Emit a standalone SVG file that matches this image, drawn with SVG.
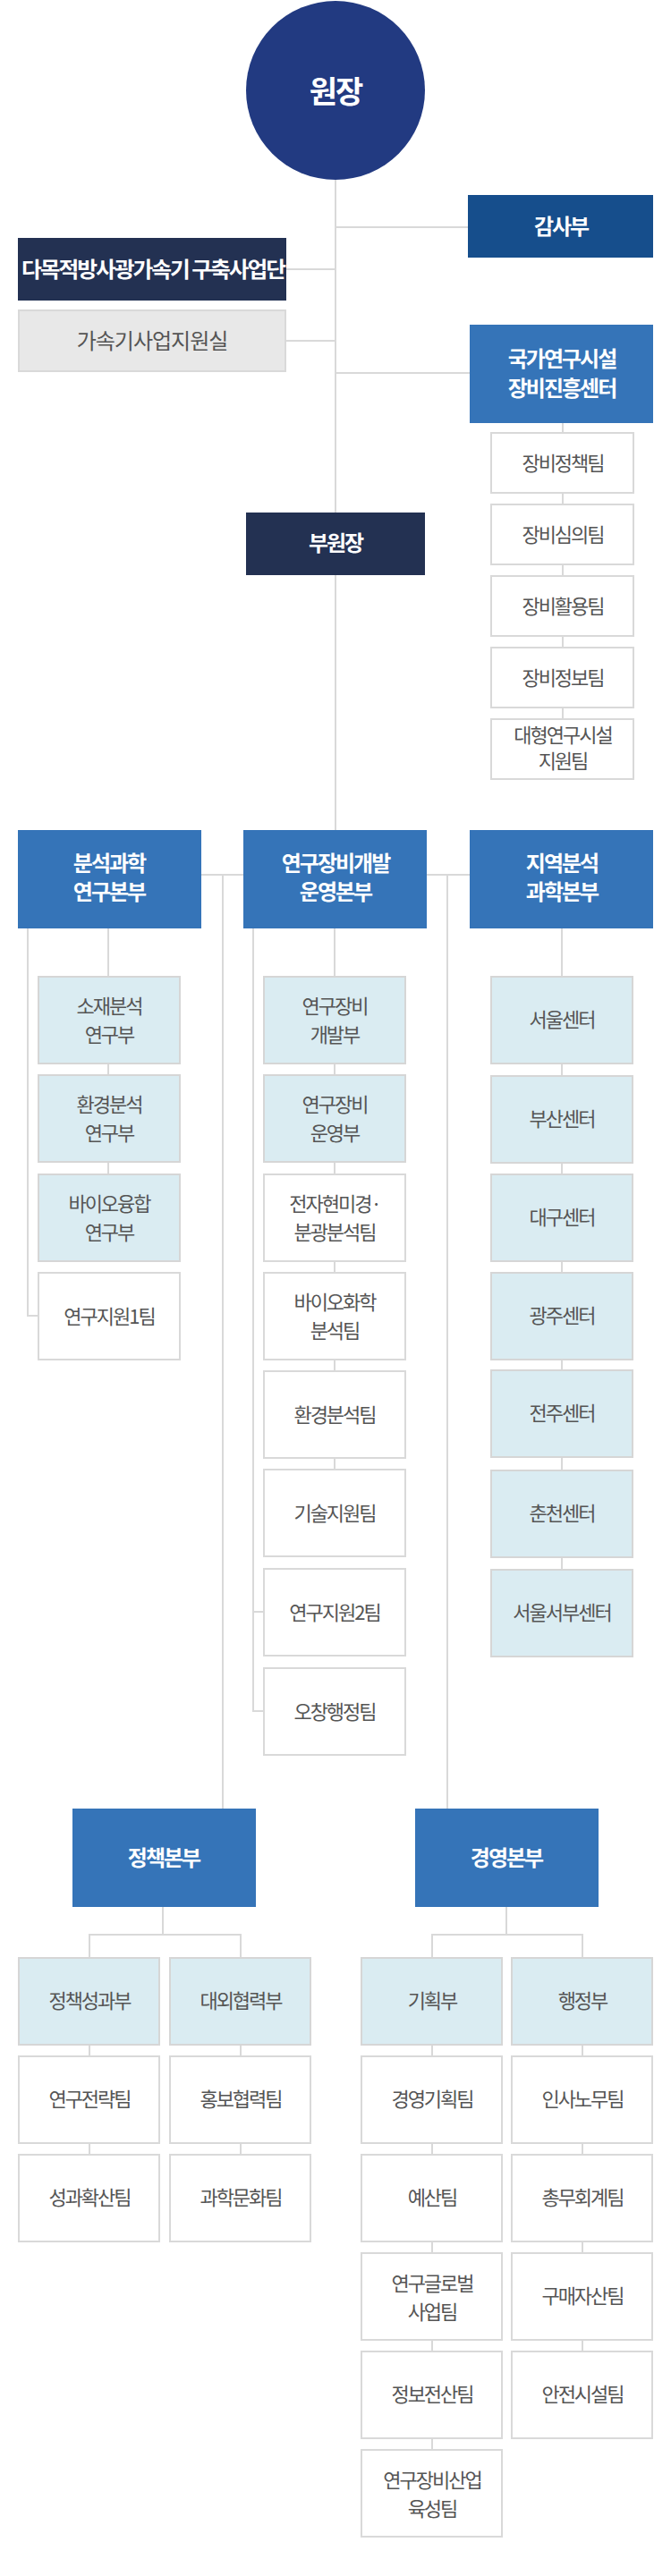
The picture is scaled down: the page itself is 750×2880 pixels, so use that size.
<svg xmlns="http://www.w3.org/2000/svg" width="750" height="2880" viewBox="0 0 750 2880">
<style>
.ln{stroke:#d9d9d9;stroke-width:2;fill:none}
.bw{fill:#ffffff;stroke:#d9d9d9;stroke-width:2}
.bl{fill:#daecf2;stroke:#d6d6d6;stroke-width:2}
.bg{fill:#e8e8e8;stroke:#d9d9d9;stroke-width:2}
.blue{fill:#3574b8}
.navy{fill:#233152}
.audit{fill:#164e8c}
text{font-family:"Noto Sans CJK KR","Noto Sans",sans-serif;text-anchor:middle}
.th{fill:#ffffff;font-size:24px;font-weight:bold;letter-spacing:-2px}
.tg{fill:#555555;font-size:22px;letter-spacing:-2px}
.tb{fill:#555555;font-size:24px;letter-spacing:-1px}
</style>
<rect width="750" height="2880" fill="#ffffff"/>
<g id="connectors">
<path class="ln" d="M375 201V928"/>
<path class="ln" d="M375 254H523"/>
<path class="ln" d="M320 301H375"/>
<path class="ln" d="M320 381H375"/>
<path class="ln" d="M375 417H525"/>
<path class="ln" d="M629 473V803"/>
<path class="ln" d="M225 978H272M477 978H525"/>
<path class="ln" d="M249 978V2022"/>
<path class="ln" d="M500 978V2022"/>
<path class="ln" d="M121 1038V1312"/>
<path class="ln" d="M31 1038V1471H42"/>
<path class="ln" d="M374 1038V1642"/>
<path class="ln" d="M283 1038V1913H294M283 1802H294"/>
<path class="ln" d="M628 1038V1754"/>
<path class="ln" d="M182 2132V2163M100 2188V2163H269V2188"/>
<path class="ln" d="M100 2286V2408M269 2286V2408"/>
<path class="ln" d="M566 2132V2163M483 2188V2163H651V2188"/>
<path class="ln" d="M483 2286V2738M651 2286V2628"/>
</g>

<g id="n-wonjang"><circle cx="375" cy="101" r="100" fill="#223a81"/><text x="375" y="115" fill="#fff" font-size="34" font-weight="bold" letter-spacing="-2">원장</text></g>
<g id="n-gamsa"><rect class="audit" x="523" y="218" width="207" height="70"/><text class="th" x="627" y="262">감사부</text></g>
<g id="n-damokjeok"><rect class="navy" x="20" y="266" width="300" height="70"/><text class="th" x="171" y="310" textLength="294" lengthAdjust="spacingAndGlyphs" letter-spacing="0">다목적방사광가속기 구축사업단</text></g>
<g id="n-gasokgi"><rect class="bg" x="21" y="347" width="298" height="68"/><text class="tb" x="170" y="390">가속기사업지원실</text></g>
<g id="n-gukga"><rect class="blue" x="525" y="363" width="205" height="110"/><text class="th" x="628" y="410">국가연구시설</text><text class="th" x="628" y="443">장비진흥센터</text></g>
<g id="n-jangbi1"><rect class="bw" x="549" y="484" width="159" height="67"/><text class="tg" x="629" y="526">장비정책팀</text></g>
<g id="n-jangbi2"><rect class="bw" x="549" y="564" width="159" height="67"/><text class="tg" x="629" y="606">장비심의팀</text></g>
<g id="n-jangbi3"><rect class="bw" x="549" y="644" width="159" height="67"/><text class="tg" x="629" y="686">장비활용팀</text></g>
<g id="n-jangbi4"><rect class="bw" x="549" y="724" width="159" height="67"/><text class="tg" x="629" y="766">장비정보팀</text></g>
<g id="n-jangbi5"><rect class="bw" x="549" y="804" width="159" height="67"/><text class="tg" x="629" y="830" font-size="20" letter-spacing="-1">대형연구시설</text><text class="tg" x="629" y="859" font-size="20" letter-spacing="-1">지원팀</text></g>
<g id="n-buwonjang"><rect class="navy" x="275" y="573" width="200" height="70"/><text class="th" x="375" y="616">부원장</text></g>

<g id="n-bunseok"><rect class="blue" x="20" y="928" width="205" height="110"/><text class="th" x="122" y="974">분석과학</text><text class="th" x="122" y="1006">연구본부</text></g>
<g id="n-yeongujangbi"><rect class="blue" x="272" y="928" width="205" height="110"/><text class="th" x="375" y="974">연구장비개발</text><text class="th" x="375" y="1006">운영본부</text></g>
<g id="n-jiyeok"><rect class="blue" x="525" y="928" width="205" height="110"/><text class="th" x="628" y="974">지역분석</text><text class="th" x="628" y="1006">과학본부</text></g>

<g id="n-sojae"><rect class="bl" x="43" y="1092" width="158" height="97"/><text class="tg" x="122" y="1133">소재분석</text><text class="tg" x="122" y="1165">연구부</text></g>
<g id="n-hwangyeong"><rect class="bl" x="43" y="1202" width="158" height="97"/><text class="tg" x="122" y="1243">환경분석</text><text class="tg" x="122" y="1275">연구부</text></g>
<g id="n-bio"><rect class="bl" x="43" y="1313" width="158" height="97"/><text class="tg" x="122" y="1354">바이오융합</text><text class="tg" x="122" y="1386">연구부</text></g>
<g id="n-jiwon1"><rect class="bw" x="43" y="1423" width="158" height="97"/><text class="tg" x="122" y="1480">연구지원1팀</text></g>

<g id="n-gaebal"><rect class="bl" x="295" y="1092" width="158" height="97"/><text class="tg" x="374" y="1133">연구장비</text><text class="tg" x="374" y="1165">개발부</text></g>
<g id="n-unyeong"><rect class="bl" x="295" y="1202" width="158" height="97"/><text class="tg" x="374" y="1243">연구장비</text><text class="tg" x="374" y="1275">운영부</text></g>
<g id="n-jeonja"><rect class="bw" x="295" y="1313" width="158" height="97"/><text class="tg" x="374" y="1354">전자현미경·</text><text class="tg" x="374" y="1386">분광분석팀</text></g>
<g id="n-biohwa"><rect class="bw" x="295" y="1423" width="158" height="97"/><text class="tg" x="374" y="1464">바이오화학</text><text class="tg" x="374" y="1496">분석팀</text></g>
<g id="n-hwangyeongteam"><rect class="bw" x="295" y="1533" width="158" height="97"/><text class="tg" x="374" y="1590">환경분석팀</text></g>
<g id="n-gisul"><rect class="bw" x="295" y="1643" width="158" height="97"/><text class="tg" x="374" y="1700">기술지원팀</text></g>
<g id="n-jiwon2"><rect class="bw" x="295" y="1754" width="158" height="97"/><text class="tg" x="374" y="1811">연구지원2팀</text></g>
<g id="n-ochang"><rect class="bw" x="295" y="1865" width="158" height="97"/><text class="tg" x="374" y="1922">오창행정팀</text></g>

<g id="n-seoul"><rect class="bl" x="549" y="1092" width="158" height="97"/><text class="tg" x="628" y="1148">서울센터</text></g>
<g id="n-busan"><rect class="bl" x="549" y="1203" width="158" height="97"/><text class="tg" x="628" y="1259">부산센터</text></g>
<g id="n-daegu"><rect class="bl" x="549" y="1313" width="158" height="97"/><text class="tg" x="628" y="1369">대구센터</text></g>
<g id="n-gwangju"><rect class="bl" x="549" y="1423" width="158" height="97"/><text class="tg" x="628" y="1479">광주센터</text></g>
<g id="n-jeonju"><rect class="bl" x="549" y="1532" width="158" height="97"/><text class="tg" x="628" y="1588">전주센터</text></g>
<g id="n-chuncheon"><rect class="bl" x="549" y="1644" width="158" height="97"/><text class="tg" x="628" y="1700">춘천센터</text></g>
<g id="n-seoulseobu"><rect class="bl" x="549" y="1755" width="158" height="97"/><text class="tg" x="628" y="1811">서울서부센터</text></g>

<g id="n-jeongchaek"><rect class="blue" x="81" y="2022" width="205" height="110"/><text class="th" x="183" y="2086">정책본부</text></g>
<g id="n-gyeongyeong"><rect class="blue" x="464" y="2022" width="205" height="110"/><text class="th" x="566" y="2086">경영본부</text></g>

<g id="n-seonggwa"><rect class="bl" x="21" y="2189" width="157" height="97"/><text class="tg" x="100" y="2245">정책성과부</text></g>
<g id="n-daeoe"><rect class="bl" x="190" y="2189" width="157" height="97"/><text class="tg" x="269" y="2245">대외협력부</text></g>
<g id="n-jeollyak"><rect class="bw" x="21" y="2299" width="157" height="97"/><text class="tg" x="100" y="2355">연구전략팀</text></g>
<g id="n-hongbo"><rect class="bw" x="190" y="2299" width="157" height="97"/><text class="tg" x="269" y="2355">홍보협력팀</text></g>
<g id="n-hwaksan"><rect class="bw" x="21" y="2409" width="157" height="97"/><text class="tg" x="100" y="2465">성과확산팀</text></g>
<g id="n-munhwa"><rect class="bw" x="190" y="2409" width="157" height="97"/><text class="tg" x="269" y="2465">과학문화팀</text></g>

<g id="n-gihoek"><rect class="bl" x="404" y="2189" width="157" height="97"/><text class="tg" x="483" y="2245">기획부</text></g>
<g id="n-haengjeong"><rect class="bl" x="572" y="2189" width="157" height="97"/><text class="tg" x="651" y="2245">행정부</text></g>
<g id="n-gyeongyeonggihoek"><rect class="bw" x="404" y="2299" width="157" height="97"/><text class="tg" x="483" y="2355">경영기획팀</text></g>
<g id="n-insa"><rect class="bw" x="572" y="2299" width="157" height="97"/><text class="tg" x="651" y="2355">인사노무팀</text></g>
<g id="n-yesan"><rect class="bw" x="404" y="2409" width="157" height="97"/><text class="tg" x="483" y="2465">예산팀</text></g>
<g id="n-chongmu"><rect class="bw" x="572" y="2409" width="157" height="97"/><text class="tg" x="651" y="2465">총무회계팀</text></g>
<g id="n-global"><rect class="bw" x="404" y="2519" width="157" height="97"/><text class="tg" x="483" y="2561">연구글로벌</text><text class="tg" x="483" y="2593">사업팀</text></g>
<g id="n-gumae"><rect class="bw" x="572" y="2519" width="157" height="97"/><text class="tg" x="651" y="2575">구매자산팀</text></g>
<g id="n-jeongbo"><rect class="bw" x="404" y="2629" width="157" height="97"/><text class="tg" x="483" y="2685">정보전산팀</text></g>
<g id="n-anjeon"><rect class="bw" x="572" y="2629" width="157" height="97"/><text class="tg" x="651" y="2685">안전시설팀</text></g>
<g id="n-sanup"><rect class="bw" x="404" y="2739" width="157" height="97"/><text class="tg" x="483" y="2781">연구장비산업</text><text class="tg" x="483" y="2813">육성팀</text></g>
</svg>
